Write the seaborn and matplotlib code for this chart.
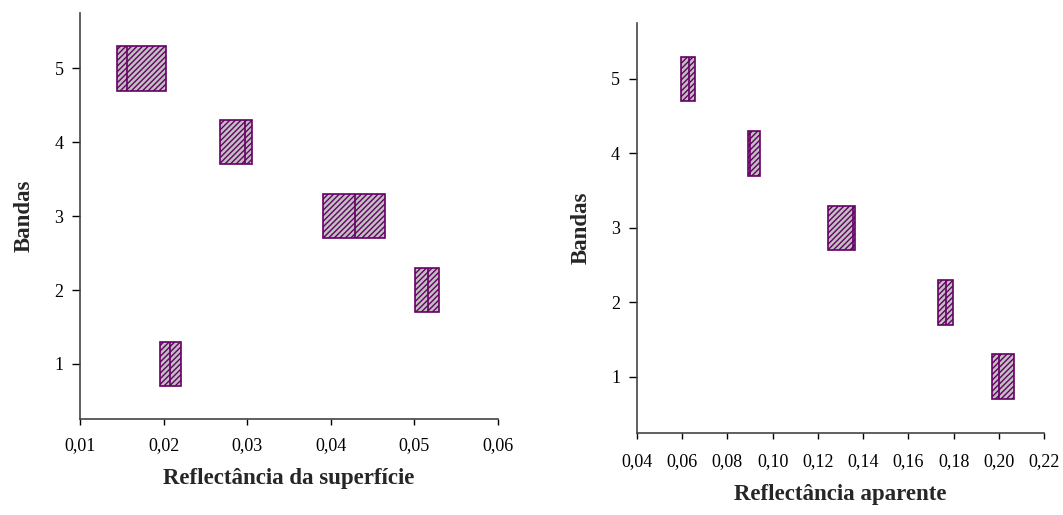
import matplotlib
matplotlib.use('Agg')
import matplotlib.pyplot as plt
import pandas as pd
import seaborn as sns
from matplotlib.ticker import FixedLocator, FuncFormatter

# Box limits (min, median, max) per band
bands = [1, 2, 3, 4, 5]

sup_low = [0.01956, 0.05008, 0.03902, 0.02670, 0.01447]
sup_mid = [0.02076, 0.05161, 0.04294, 0.02970, 0.01560]
sup_high = [0.02203, 0.05296, 0.04654, 0.03059, 0.02031]

apa_low = [0.1968, 0.1732, 0.1246, 0.0892, 0.0597]
apa_mid = [0.2002, 0.1766, 0.1354, 0.0902, 0.0631]
apa_high = [0.2068, 0.1796, 0.1363, 0.0946, 0.0656]

sup_ticks = [0.01, 0.02, 0.03, 0.04, 0.05, 0.06]
apa_ticks = [0.04, 0.06, 0.08, 0.10, 0.12, 0.14, 0.16, 0.18, 0.20, 0.22]


def long_table(low, mid, high):
    # 5 points per band so that q1 = min, median = mid, q3 = max
    rows = []
    for b, lo, m, hi in zip(bands, low, mid, high):
        for v in (lo, lo, m, hi, hi):
            rows.append({'band': b, 'value': v})
    return pd.DataFrame(rows)


sns.set_style('ticks')
plt.rcParams['font.family'] = ['Liberation Serif', 'DejaVu Serif']
plt.rcParams['hatch.color'] = '#660066'
plt.rcParams['hatch.linewidth'] = 1.0

edge = '#660066'
spine_col = '#444444'

fig = plt.figure(figsize=(10.63, 5.15), dpi=100)
ax1 = fig.add_axes([0.0753, 0.1858, 0.3932, 0.789])
ax2 = fig.add_axes([0.599, 0.1598, 0.3834, 0.7955])

panels = [
    (ax1, long_table(sup_low, sup_mid, sup_high), sup_ticks, (0.01, 0.06), 'Reflectância da superfície', 14, 9),
    (ax2, long_table(apa_low, apa_mid, apa_high), apa_ticks, (0.04, 0.22), 'Reflectância aparente', 14, 11),
]

for ax, df, ticks, xlim, xlabel, ypad, xtpad in panels:
    sns.boxplot(data=df, x='value', y='band', orient='h', native_scale=True,
                width=0.6, whis=0, showcaps=False, fliersize=0,
                color='#c0c0c0', linecolor=edge, linewidth=1.2, ax=ax)
    for p in ax.patches:
        p.set_hatch('//////')
        p.set_edgecolor(edge)
        p.set_facecolor('#c0c0c0')
    ax.set_xlim(*xlim)
    ax.set_ylim(0.25, 5.75)
    ax.xaxis.set_major_locator(FixedLocator(ticks))
    ax.xaxis.set_major_formatter(FuncFormatter(lambda v, pos: ('%.2f' % v).replace('.', ',')))
    ax.yaxis.set_major_locator(FixedLocator(bands))
    ax.yaxis.set_major_formatter(FuncFormatter(lambda v, pos: '%d' % v))
    ax.set_xlabel(xlabel, fontsize=16.5, fontweight='bold', labelpad=10)
    ax.set_ylabel('Bandas', fontsize=16.5, fontweight='bold', labelpad=ypad)
    ax.tick_params(axis='both', labelsize=13, colors='black', width=1.0)
    ax.tick_params(axis='x', length=4, direction='out', pad=xtpad)
    ax.tick_params(axis='y', length=6, direction='out', pad=6)
    for s in ('left', 'bottom'):
        ax.spines[s].set_color(spine_col)
        ax.spines[s].set_linewidth(1.2)
    for s in ('top', 'right'):
        ax.spines[s].set_visible(False)

fig.savefig('out.png', dpi=100)
